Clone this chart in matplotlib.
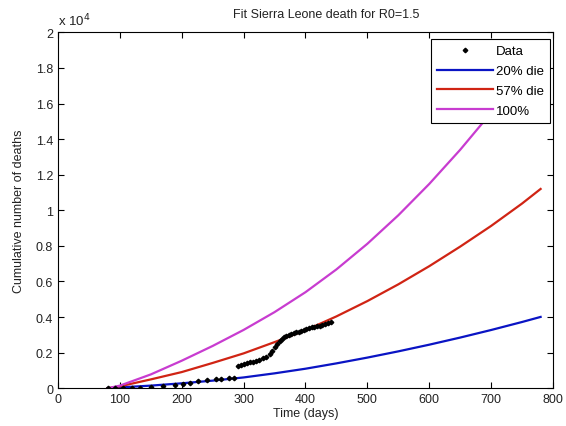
import matplotlib
matplotlib.use("Agg")
import matplotlib.pyplot as plt
from matplotlib.ticker import FixedLocator

plt.rcParams['font.family'] = ['Liberation Sans', 'DejaVu Sans']

# Data points (day, cumulative deaths)
data_days = [80, 92, 105, 119, 132, 150, 170, 189, 202, 213, 227, 240, 256, 264, 277, 284,
             291, 295, 300, 305, 310, 315, 320, 325, 331, 336, 342, 346, 350, 354, 358,
             362, 366, 369, 373, 377, 381, 385, 389, 393, 397, 401, 406, 410, 414, 418,
             423, 427, 431, 436, 441]
data_deaths = [0, 5, 10, 15, 25, 60, 120, 200, 260, 320, 400, 460, 500, 530, 570, 590,
               1236, 1290, 1350, 1410, 1460, 1500, 1550, 1610, 1685, 1780, 1927, 2100, 2300, 2490, 2675,
               2790, 2870, 2920, 2980, 3040, 3090, 3146, 3190, 3240, 3290, 3330, 3380, 3420, 3470, 3500,
               3517, 3560, 3610, 3650, 3700]

# Model curves
model_days = [80, 100, 150, 200, 250, 300, 350, 400, 450, 500, 550, 600, 650, 700, 750, 780]
die20 = [0, 50, 150, 280, 430, 610, 840, 1100, 1400, 1725, 2075, 2450, 2850, 3275, 3725, 4010]
die57 = [0, 112, 500, 912, 1425, 1962, 2595, 3262, 4040, 4900, 5840, 6860, 7960, 9122, 10380, 11200]
die100 = [0, 150, 780, 1550, 2380, 3280, 4280, 5400, 6680, 8120, 9720, 11480, 13400, 15480, 17720, 19150]

yticks = [0, 2000, 4000, 6000, 8000, 10000, 12000, 14000, 16000, 18000, 20000]
ytick_labels = ['0', '0.2', '0.4', '0.6', '0.8', '1', '1.2', '1.4', '1.6', '1.8', '2']
xticks = [0, 100, 200, 300, 400, 500, 600, 700, 800]

fig = plt.figure(figsize=(5.66, 4.27), dpi=100)
ax = fig.add_axes([0.1025, 0.0883, 0.8745, 0.8337])

l_data, = ax.plot(data_days, data_deaths, linestyle='none', marker='D', markersize=2.3,
                  color='black', label='Data', zorder=5)
l20, = ax.plot(model_days, die20, color='#0a14c4', lw=1.6, label='20% die', zorder=3)
l57, = ax.plot(model_days, die57, color='#d02414', lw=1.6, label='57% die', zorder=3)
l100, = ax.plot(model_days, die100, color='#c83cd0', lw=1.6, label='100%', zorder=3)

ax.set_xlim(0, 800)
ax.set_ylim(0, 20000)
ax.xaxis.set_major_locator(FixedLocator(xticks))
ax.yaxis.set_major_locator(FixedLocator(yticks))
ax.set_yticklabels(ytick_labels)
ax.tick_params(direction='in', top=True, right=True, labelsize=9, length=4,
               colors='black', labelcolor='#222222', width=0.8)
for s in ax.spines.values():
    s.set_linewidth(0.8)

ax.text(0.0, 1.01, r'x 10$^4$', transform=ax.transAxes, fontsize=9.5, ha='left', va='bottom',
        color='#222222')
ax.set_title('Fit Sierra Leone death for R0=1.5', fontsize=9, pad=11, color='#222222', x=0.541)
ax.set_xlabel('Time (days)', fontsize=9, labelpad=1, color='#222222')
ax.set_ylabel('Cumulative number of deaths', fontsize=9, labelpad=8, color='#222222')

leg = ax.legend(handles=[l_data, l20, l57, l100], loc='upper right',
                bbox_to_anchor=(0.994, 0.981), fontsize=9.5, frameon=True, fancybox=False,
                handlelength=4.3, handletextpad=0.2, borderpad=0.45, labelspacing=0.58,
                borderaxespad=0)
leg.get_frame().set_edgecolor('black')
leg.get_frame().set_linewidth(0.8)
leg.get_frame().set_alpha(1)

fig.savefig('out.png', dpi=100)
